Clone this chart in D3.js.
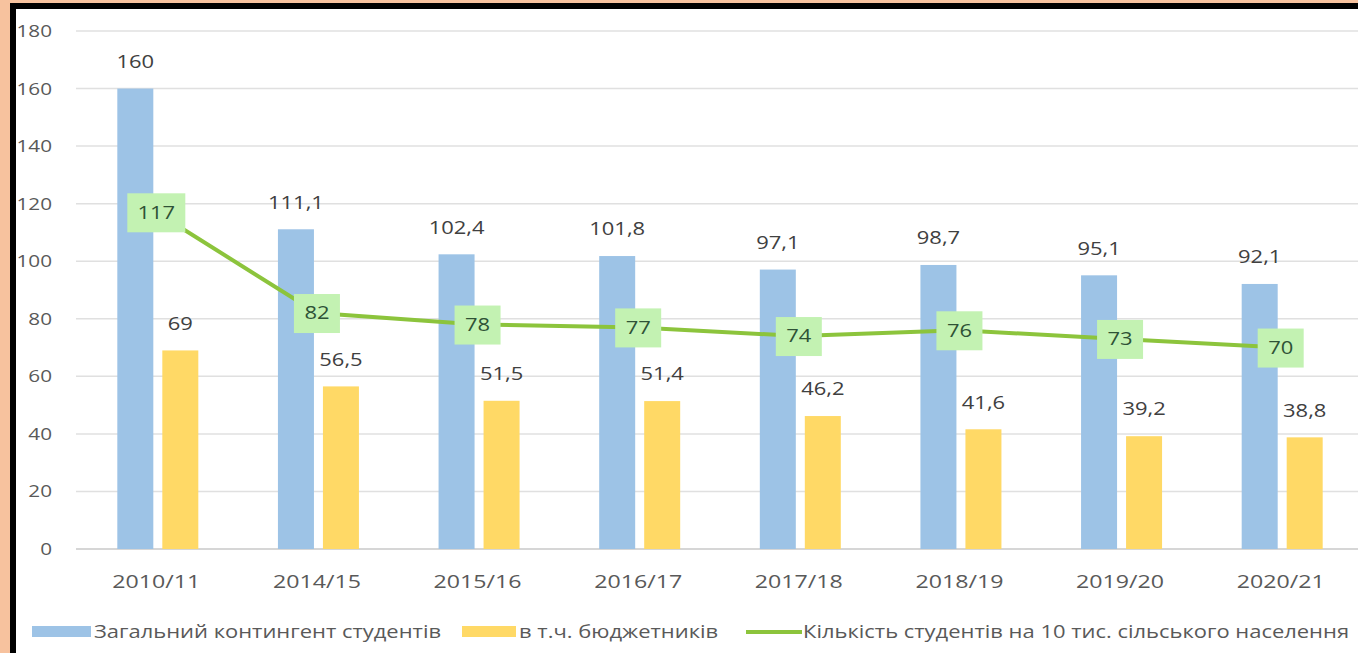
<!DOCTYPE html>
<html lang="uk">
<head>
<meta charset="UTF-8">
<title>Контингент студентів</title>
<script src="https://d3js.org/d3.v7.min.js"></script>
<style>
    html, body { margin: 0; padding: 0; background: #f7c29e; }
    svg { display: block; }
</style>
</head>
<body>
<script>

// data
const years = ['2010/11', '2014/15', '2015/16', '2016/17', '2017/18', '2018/19', '2019/20', '2020/21'];
const totalStudents = [160, 111.1, 102.4, 101.8, 97.1, 98.7, 95.1, 92.1];
const budgetStudents = [69, 56.5, 51.5, 51.4, 46.2, 41.6, 39.2, 38.8];
const ruralPer10k = [117, 82, 78, 77, 74, 76, 73, 70];
const yTicks = [0, 20, 40, 60, 80, 100, 120, 140, 160, 180];
const seriesNames = ['Загальний контингент студентів', 'в т.ч. бюджетників', 'Кількість студентів на 10 тис. сільського населення'];

const W = 1358, H = 653;
const font = '"Open Sans", "Noto Sans", sans-serif';
const SX = 1.22; // the original text is stretched sideways
const fmt = v => String(v).replace('.', ',');

const svg = d3.select('body').append('svg').attr('width', W).attr('height', H);

// peach page + black frame + white chart area
svg.append('rect').attr('width', W).attr('height', H).attr('fill', '#f7c29e');
svg.append('rect').attr('x', 10).attr('y', 3).attr('width', W - 10).attr('height', H - 3).attr('fill', '#000');
svg.append('rect').attr('x', 16).attr('y', 9).attr('width', W - 16).attr('height', H - 9).attr('fill', '#fff');

const x = d3.scaleBand().domain(years).range([76, 1361]);
const y = d3.scaleLinear().domain([0, 180]).range([549, 31]);

// place a text at (px,py) with the horizontal stretch
const at = (px, py) => `translate(${px},${py}) scale(${SX},1)`;

// gridlines
svg.append('g').selectAll('line').data(yTicks).join('line')
    .attr('x1', 76).attr('x2', W)
    .attr('y1', d => y(d)).attr('y2', d => y(d))
    .attr('stroke', d => d === 0 ? '#c8c8c8' : '#e0e0e0')
    .attr('stroke-width', 1.5);

// y labels
svg.append('g').selectAll('text').data(yTicks).join('text')
    .attr('transform', d => at(52, y(d))).attr('dy', '0.35em')
    .attr('text-anchor', 'end')
    .attr('font-family', font).attr('font-size', 17).attr('fill', '#595959')
    .text(d => d);

// x labels
svg.append('g').selectAll('text').data(years).join('text')
    .attr('transform', d => at(x(d) + x.bandwidth() / 2, 581)).attr('dy', '0.35em')
    .attr('text-anchor', 'middle')
    .attr('font-family', font).attr('font-size', 19).attr('fill', '#595959')
    .text(d => d);

const cx = i => x(years[i]) + x.bandwidth() / 2;
const barW = 36;

// blue bars
svg.append('g').selectAll('rect').data(totalStudents).join('rect')
    .attr('x', (d, i) => cx(i) - 39).attr('width', barW)
    .attr('y', d => y(d)).attr('height', d => y(0) - y(d))
    .attr('fill', '#9dc3e6');

// yellow bars
svg.append('g').selectAll('rect').data(budgetStudents).join('rect')
    .attr('x', (d, i) => cx(i) + 6).attr('width', barW)
    .attr('y', d => y(d)).attr('height', d => y(0) - y(d))
    .attr('fill', '#ffd966');

// bar value labels
svg.append('g').selectAll('text').data(totalStudents).join('text')
    .attr('transform', (d, i) => at(cx(i) - 21, y(d) - 27)).attr('dy', '0.35em')
    .attr('text-anchor', 'middle')
    .attr('font-family', font).attr('font-size', 18).attr('fill', '#404040')
    .text(fmt);
svg.append('g').selectAll('text').data(budgetStudents).join('text')
    .attr('transform', (d, i) => at(cx(i) + 24, y(d) - 27)).attr('dy', '0.35em')
    .attr('text-anchor', 'middle')
    .attr('font-family', font).attr('font-size', 18).attr('fill', '#404040')
    .text(fmt);

// green line
const line = d3.line().x((d, i) => cx(i)).y(d => y(d));
svg.append('path').datum(ruralPer10k)
    .attr('d', line).attr('fill', 'none')
    .attr('stroke', '#8cc43c').attr('stroke-width', 4);

const lbl = svg.append('g').selectAll('g').data(ruralPer10k).join('g')
    .attr('transform', (d, i) => `translate(${cx(i)},${y(d)})`);
lbl.append('rect')
    .attr('x', d => d >= 100 ? -29 : -23).attr('width', d => d >= 100 ? 58 : 46)
    .attr('y', -19).attr('height', 39)
    .attr('fill', '#c3f2b2');
lbl.append('text')
    .attr('transform', `scale(${SX},1)`)
    .attr('text-anchor', 'middle').attr('dy', '0.35em')
    .attr('font-family', font).attr('font-size', 18).attr('fill', '#2f5236')
    .text(d => d);

// legend
const lg = svg.append('g').attr('font-family', font).attr('font-size', 18).attr('fill', '#595959');
lg.append('rect').attr('x', 32).attr('y', 626).attr('width', 59).attr('height', 11).attr('fill', '#9dc3e6');
lg.append('text').attr('transform', at(94, 632)).attr('dy', '0.35em').text(seriesNames[0]);
lg.append('rect').attr('x', 462).attr('y', 626).attr('width', 54).attr('height', 11).attr('fill', '#ffd966');
lg.append('text').attr('transform', at(519, 632)).attr('dy', '0.35em').text(seriesNames[1]);
lg.append('line').attr('x1', 746).attr('x2', 802).attr('y1', 632).attr('y2', 632)
    .attr('stroke', '#8cc43c').attr('stroke-width', 4);
lg.append('text').attr('transform', at(803, 632)).attr('dy', '0.35em').text(seriesNames[2]);

</script>
</body>
</html>
